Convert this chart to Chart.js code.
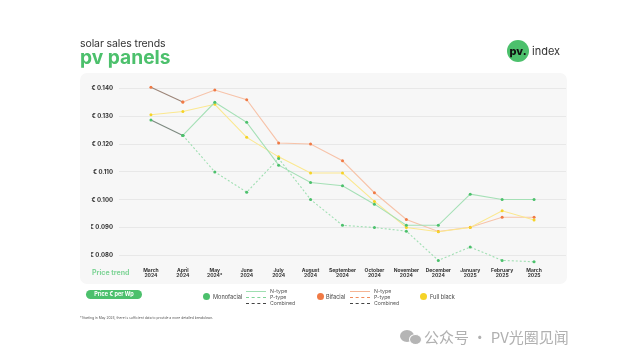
<!DOCTYPE html>
<html lang="en">
<head>
    <meta charset="UTF-8">
    <title>solar sales trends - pv panels</title>
    <script src="https://cdn.jsdelivr.net/npm/chart.js"></script>
    <style>
        :root { --green: #4cc06c; --orange: #f07a45; --yellow: #f5d327; --text: #333; }
        html, body { margin: 0; background: #fff; }
        body { width: 640px; height: 360px; position: relative; overflow: hidden; font-family: Inter, sans-serif; color: var(--text); filter: blur(0.35px); }
        #card { position: absolute; left: 80px; top: 73px; width: 487px; height: 211px; background: #f7f7f7; border-radius: 7px; }
        #wrap { position: absolute; left: 0; top: 0; width: 640px; height: 360px; }
        .abs { position: absolute; white-space: nowrap; }
        .subtitle { left: 80px; top: 37px; font-size: 10.5px; line-height: 13px; color: #333; letter-spacing: -0.1px; }
        .title { left: 80px; top: 45px; font-size: 19.2px; line-height: 24px; font-weight: 700; color: var(--green); }
        .logo { left: 507px; top: 40px; width: 22px; height: 22px; border-radius: 50%; background: var(--green); color: #111; font-weight: 800; font-size: 11px; line-height: 22px; text-align: center; }
        .logo2 { left: 532px; top: 44px; font-size: 11px; line-height: 14px; color: #333; }
        .trend { left: 92px; top: 268px; font-size: 7px; line-height: 10px; font-weight: 700; color: #7fd497; }
        .pill { left: 86px; top: 290px; width: 56px; height: 9px; border-radius: 5px; background: var(--green); color: #fff; font-size: 5.5px; font-weight: 700; line-height: 9px; text-align: center; }
        .dot { width: 7px; height: 7px; border-radius: 50%; top: 293px; }
        .leg { font-size: 5.6px; line-height: 8px; top: 293px; color: #444; }
        .sample { width: 20px; height: 0; border-top-width: 1px; }
        .small { font-size: 5.2px; line-height: 6px; color: #555; }
        .note { left: 80px; top: 315px; font-size: 3.35px; line-height: 6px; color: #555; }
        .mark { left: 424px; top: 327px; font-size: 15px; line-height: 20px; color: #b0b0b0; font-family: "Noto Sans CJK SC", sans-serif; }
        .wx { left: 400px; top: 330px; width: 14px; height: 12px; border-radius: 50%; background: #b5b5b5; }
        .wx2 { left: 409px; top: 334px; width: 11px; height: 9px; border-radius: 50%; background: #b5b5b5; border: 1px solid #fff; }
    </style>
</head>
<body>
<div id="card"></div>
<div id="wrap"><canvas id="chart" width="640" height="360"></canvas></div>

<div class="abs subtitle">solar sales trends</div>
<div class="abs title">pv panels</div>
<div class="abs logo">pv.</div>
<div class="abs logo2">index</div>
<div class="abs trend">Price trend</div>
<div class="abs pill">Price € per Wp</div>

<div class="abs dot" style="left:203px;background:var(--green)"></div>
<div class="abs leg" style="left:213px">Monofacial</div>
<div class="abs sample" style="left:246px;top:291px;border-top:1px solid #9fdfb2"></div>
<div class="abs sample" style="left:246px;top:297px;border-top:1px dashed #7fd497"></div>
<div class="abs sample" style="left:246px;top:303px;border-top:1px dashed #444"></div>
<div class="abs small" style="left:270px;top:288px">N-type</div>
<div class="abs small" style="left:270px;top:294px">P-type</div>
<div class="abs small" style="left:270px;top:300px">Combined</div>

<div class="abs dot" style="left:317px;background:var(--orange)"></div>
<div class="abs leg" style="left:326px">Bifacial</div>
<div class="abs sample" style="left:350px;top:291px;border-top:1px solid #f5b596"></div>
<div class="abs sample" style="left:350px;top:297px;border-top:1px dashed #f08a5c"></div>
<div class="abs sample" style="left:350px;top:303px;border-top:1px dashed #444"></div>
<div class="abs small" style="left:374px;top:288px">N-type</div>
<div class="abs small" style="left:374px;top:294px">P-type</div>
<div class="abs small" style="left:374px;top:300px">Combined</div>

<div class="abs dot" style="left:420px;background:var(--yellow)"></div>
<div class="abs leg" style="left:430px">Full black</div>

<div class="abs note">*Starting in May 2024, there is sufficient data to provide a more detailed breakdown.</div>

<div class="abs wx"></div>
<div class="abs wx2"></div>
<div class="abs mark">公众号 · PV光圈见闻</div>

<script>
    const months = [['March','2024'],['April','2024'],['May','2024*'],['June','2024'],['July','2024'],['August','2024'],['September','2024'],['October','2024'],['November','2024'],['December','2024'],['January','2025'],['February','2025'],['March','2025']];
    const yTicks = [0.08, 0.09, 0.10, 0.11, 0.12, 0.13, 0.14];

    const monoCombined = [0.1286, 0.1231, null, null, null, null, null, null, null, null, null, null, null];
    const monoN = [null, 0.1231, 0.1350, 0.1278, 0.1124, 0.1062, 0.1050, 0.0984, 0.0908, 0.0908, 0.1020, 0.1001, 0.1001];
    const monoP = [null, 0.1231, 0.1100, 0.1027, 0.1148, 0.1001, 0.0908, 0.0900, 0.0887, 0.0782, 0.0830, 0.0782, 0.0777];
    const bifiCombined = [0.1404, 0.1351, null, null, null, null, null, null, null, null, null, null, null];
    const bifiN = [null, 0.1351, 0.1394, 0.1359, 0.1204, 0.1200, 0.1140, 0.1025, 0.0929, 0.0886, 0.0901, 0.0937, 0.0937];
    const fullBlack = [0.1305, 0.1317, 0.1343, 0.1224, 0.1154, 0.1096, 0.1096, 0.0994, 0.0900, 0.0885, 0.0900, 0.0960, 0.0927];

    // empty slot on each side so the first and last month sit inside the grid lines
    const pad = arr => [null, ...arr, null];

    function serie(data, line, point, dash) {
        return {
            data: pad(data), borderColor: line, backgroundColor: point, borderWidth: 1.1,
            borderDash: dash || [], pointRadius: 1.5, pointBorderWidth: 0, tension: 0, spanGaps: false
        };
    }

    new Chart(document.getElementById('chart'), {
        type: 'line',
        data: {
            labels: pad(months).map(m => m === null ? '' : m),
            datasets: [
                serie(monoP, '#9fdfb2', '#4cc06c', [2, 2]),
                serie(monoN, '#a5e0b6', '#4cc06c'),
                serie(fullBlack, '#fbe88f', '#f5d327'),
                serie(bifiN, '#f7c3a9', '#f07a45'),
                serie(monoCombined, '#7d8a80', '#4cc06c'),
                serie(bifiCombined, '#9c8578', '#f07a45')
            ]
        },
        options: {
            responsive: false,
            animation: false,
            layout: { padding: { left: 91, right: 74, top: 85.6, bottom: 81 } },
            plugins: { legend: { display: false }, tooltip: { enabled: false } },
            scales: {
                x: {
                    grid: { display: false, drawTicks: false },
                    border: { display: false },
                    ticks: { maxRotation: 0, autoSkip: false, padding: 1, color: '#333', font: { family: 'Inter', size: 5, weight: '700', lineHeight: 1.05 } }
                },
                y: {
                    // headroom above 0.140 and below 0.080 so the lowest points are not cut off
                    min: 0.076, max: 0.141,
                    afterBuildTicks: axis => { axis.ticks = yTicks.map(v => ({ value: v })); },
                    afterFit: axis => { axis.width = 28; },
                    grid: { color: '#e8e8e8', lineWidth: 1, drawTicks: false },
                    border: { display: false },
                    ticks: {
                        padding: 6, color: '#333', font: { family: 'Inter', size: 6, weight: '700' },
                        callback: v => '€ ' + v.toFixed(3)
                    }
                }
            }
        }
    });
</script>
</body>
</html>
